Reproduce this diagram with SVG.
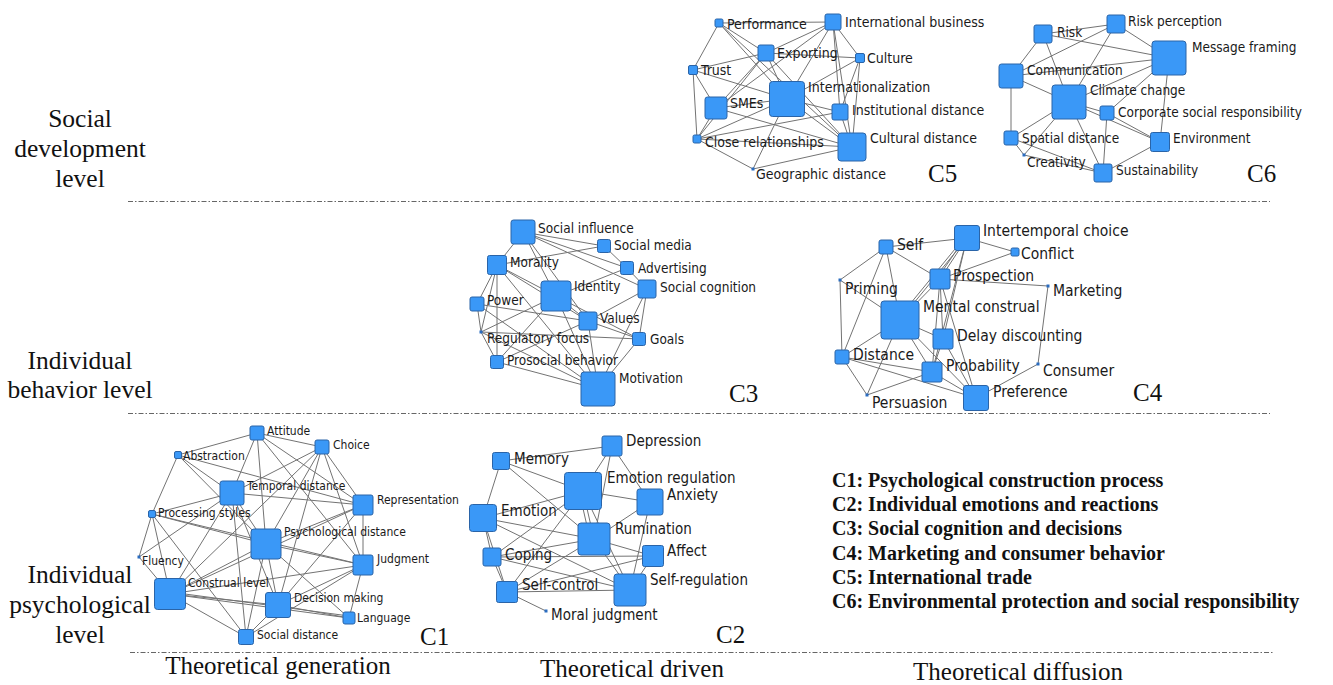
<svg xmlns="http://www.w3.org/2000/svg" width="1333" height="685" viewBox="0 0 1333 685">
<style>
.bg{fill:#ffffff}
.n{fill:#3a98f7;stroke:#2a64a8;stroke-width:1}
.d{fill:#2a6cc0}
.e line{stroke:#737373;stroke-width:1;fill:none}
.l{font-family:"DejaVu Sans Condensed","DejaVu Sans",sans-serif;fill:#1a1a1a}
.s12{font-size:12px}.s135{font-size:13.5px}.s14{font-size:14px}.s15{font-size:15px}.s155{font-size:15.5px}
.lv{font-family:"Liberation Serif","Times New Roman",serif;font-size:25.5px;fill:#111;text-anchor:middle}
.ax{font-family:"Liberation Serif","Times New Roman",serif;font-size:25px;fill:#111;text-anchor:middle}
.cl{font-family:"Liberation Serif","Times New Roman",serif;font-size:25px;fill:#111}
.lg{font-family:"Liberation Serif","Times New Roman",serif;font-size:20px;font-weight:bold;fill:#111}
.sep{stroke:#666;stroke-width:1;stroke-dasharray:5 2 1.5 2}
</style>
<rect class="bg" x="0" y="0" width="1333" height="685"/>

<g id="separators">
<line class="sep" x1="128" y1="201.5" x2="1270" y2="201.5"/>
<line class="sep" x1="128" y1="413.5" x2="1270" y2="413.5"/>
<line class="sep" x1="130" y1="652.5" x2="1274" y2="652.5"/>
</g>

<g id="connectors" class="e">
<!-- C5 -->
<line x1="719" y1="23" x2="693" y2="70"/><line x1="719" y1="23" x2="766" y2="53"/><line x1="719" y1="23" x2="787" y2="99"/><line x1="719" y1="23" x2="833" y2="22"/><line x1="719" y1="23" x2="852" y2="147"/>
<line x1="833" y1="22" x2="766" y2="53"/><line x1="833" y1="22" x2="716" y2="108"/><line x1="833" y1="22" x2="787" y2="99"/><line x1="833" y1="22" x2="840" y2="112"/><line x1="833" y1="22" x2="852" y2="147"/><line x1="833" y1="22" x2="860" y2="58"/>
<line x1="766" y1="53" x2="860" y2="58"/><line x1="766" y1="53" x2="716" y2="108"/><line x1="766" y1="53" x2="693" y2="70"/><line x1="766" y1="53" x2="787" y2="99"/><line x1="766" y1="53" x2="697" y2="139"/><line x1="766" y1="53" x2="852" y2="147"/>
<line x1="860" y1="58" x2="787" y2="99"/><line x1="860" y1="58" x2="840" y2="112"/><line x1="860" y1="58" x2="852" y2="147"/>
<line x1="693" y1="70" x2="697" y2="139"/><line x1="693" y1="70" x2="716" y2="108"/><line x1="693" y1="70" x2="787" y2="99"/>
<line x1="716" y1="108" x2="697" y2="139"/><line x1="716" y1="108" x2="787" y2="99"/><line x1="716" y1="108" x2="852" y2="147"/>
<line x1="787" y1="99" x2="840" y2="112"/><line x1="787" y1="99" x2="852" y2="147"/><line x1="787" y1="99" x2="697" y2="139"/><line x1="787" y1="99" x2="753" y2="169"/>
<line x1="840" y1="112" x2="852" y2="147"/><line x1="840" y1="112" x2="697" y2="139"/>
<line x1="697" y1="139" x2="753" y2="169"/><line x1="697" y1="139" x2="852" y2="147"/><line x1="753" y1="169" x2="852" y2="147"/>
<!-- C6 -->
<line x1="1043" y1="34" x2="1116" y2="24"/><line x1="1043" y1="34" x2="1011" y2="76"/><line x1="1043" y1="34" x2="1169" y2="58"/><line x1="1043" y1="34" x2="1069" y2="102"/>
<line x1="1116" y1="24" x2="1169" y2="58"/><line x1="1116" y1="24" x2="1011" y2="76"/><line x1="1116" y1="24" x2="1069" y2="102"/>
<line x1="1169" y1="58" x2="1011" y2="76"/><line x1="1169" y1="58" x2="1069" y2="102"/><line x1="1169" y1="58" x2="1160" y2="142"/><line x1="1169" y1="58" x2="1107" y2="113"/>
<line x1="1011" y1="76" x2="1069" y2="102"/><line x1="1011" y1="76" x2="1011" y2="138"/>
<line x1="1069" y1="102" x2="1011" y2="138"/><line x1="1069" y1="102" x2="1160" y2="142"/><line x1="1069" y1="102" x2="1107" y2="113"/><line x1="1069" y1="102" x2="1103" y2="173"/><line x1="1069" y1="102" x2="1024" y2="155"/>
<line x1="1107" y1="113" x2="1160" y2="142"/><line x1="1107" y1="113" x2="1103" y2="173"/>
<line x1="1011" y1="138" x2="1024" y2="155"/><line x1="1011" y1="138" x2="1103" y2="173"/><line x1="1160" y1="142" x2="1103" y2="173"/><line x1="1024" y1="155" x2="1103" y2="173"/>
<!-- C3 -->
<line x1="523" y1="232" x2="604" y2="246"/><line x1="523" y1="232" x2="627" y2="268"/><line x1="523" y1="232" x2="647" y2="289"/><line x1="523" y1="232" x2="497" y2="265"/><line x1="523" y1="232" x2="556" y2="296"/><line x1="523" y1="232" x2="588" y2="321"/>
<line x1="604" y1="246" x2="627" y2="268"/><line x1="604" y1="246" x2="497" y2="265"/>
<line x1="627" y1="268" x2="647" y2="289"/><line x1="627" y1="268" x2="556" y2="296"/>
<line x1="497" y1="265" x2="477" y2="304"/><line x1="497" y1="265" x2="556" y2="296"/><line x1="497" y1="265" x2="481" y2="332"/><line x1="497" y1="265" x2="497" y2="362"/><line x1="497" y1="265" x2="598" y2="389"/><line x1="497" y1="265" x2="588" y2="321"/>
<line x1="556" y1="296" x2="588" y2="321"/><line x1="556" y1="296" x2="598" y2="389"/><line x1="556" y1="296" x2="497" y2="362"/><line x1="556" y1="296" x2="481" y2="332"/><line x1="556" y1="296" x2="639" y2="339"/>
<line x1="647" y1="289" x2="588" y2="321"/><line x1="647" y1="289" x2="598" y2="389"/><line x1="647" y1="289" x2="639" y2="339"/>
<line x1="477" y1="304" x2="481" y2="332"/><line x1="477" y1="304" x2="598" y2="389"/><line x1="477" y1="304" x2="588" y2="321"/>
<line x1="588" y1="321" x2="639" y2="339"/><line x1="588" y1="321" x2="598" y2="389"/><line x1="588" y1="321" x2="497" y2="362"/>
<line x1="639" y1="339" x2="598" y2="389"/><line x1="481" y1="332" x2="598" y2="389"/><line x1="481" y1="332" x2="639" y2="339"/>
<line x1="497" y1="362" x2="598" y2="389"/><line x1="497" y1="362" x2="481" y2="332"/>
<!-- C4 -->
<line x1="886" y1="247" x2="967" y2="238"/><line x1="886" y1="247" x2="940" y2="279"/><line x1="886" y1="247" x2="840" y2="280"/><line x1="886" y1="247" x2="900" y2="320"/>
<line x1="967" y1="238" x2="1015" y2="252"/><line x1="967" y1="238" x2="940" y2="279"/><line x1="965" y1="238" x2="937" y2="279"/><line x1="967" y1="238" x2="900" y2="320"/><line x1="964" y1="238" x2="897" y2="320"/><line x1="967" y1="238" x2="943" y2="339"/><line x1="967" y1="238" x2="932" y2="372"/>
<line x1="1015" y1="252" x2="940" y2="279"/>
<line x1="940" y1="279" x2="900" y2="320"/><line x1="940" y1="279" x2="943" y2="339"/><line x1="940" y1="279" x2="1048" y2="286"/><line x1="940" y1="279" x2="932" y2="372"/><line x1="940" y1="279" x2="976" y2="398"/>
<line x1="840" y1="280" x2="842" y2="357"/><line x1="840" y1="280" x2="900" y2="320"/><line x1="886" y1="247" x2="842" y2="357"/>
<line x1="1048" y1="286" x2="1038" y2="364"/>
<line x1="900" y1="320" x2="842" y2="357"/><line x1="900" y1="320" x2="943" y2="339"/><line x1="900" y1="320" x2="932" y2="372"/><line x1="900" y1="320" x2="976" y2="398"/><line x1="900" y1="320" x2="867" y2="395"/>
<line x1="943" y1="339" x2="932" y2="372"/><line x1="943" y1="339" x2="976" y2="398"/>
<line x1="842" y1="357" x2="932" y2="372"/><line x1="842" y1="357" x2="867" y2="395"/><line x1="842" y1="357" x2="976" y2="398"/>
<line x1="932" y1="372" x2="976" y2="398"/><line x1="1038" y1="364" x2="976" y2="398"/><line x1="867" y1="395" x2="932" y2="372"/>
<!-- C1 -->
<line x1="257" y1="433" x2="178" y2="455"/><line x1="257" y1="433" x2="322" y2="447"/><line x1="257" y1="433" x2="232" y2="493"/><line x1="257" y1="433" x2="266" y2="544"/><line x1="257" y1="433" x2="363" y2="565"/><line x1="257" y1="433" x2="363" y2="505"/>
<line x1="322" y1="447" x2="232" y2="493"/><line x1="322" y1="447" x2="266" y2="544"/><line x1="322" y1="447" x2="363" y2="505"/><line x1="322" y1="447" x2="363" y2="565"/><line x1="322" y1="447" x2="170" y2="594"/><line x1="322" y1="447" x2="278" y2="605"/>
<line x1="178" y1="455" x2="232" y2="493"/><line x1="178" y1="455" x2="266" y2="544"/><line x1="178" y1="455" x2="152" y2="514"/><line x1="178" y1="455" x2="363" y2="505"/>
<line x1="232" y1="493" x2="363" y2="505"/><line x1="232" y1="493" x2="266" y2="544"/><line x1="232" y1="493" x2="170" y2="594"/><line x1="232" y1="493" x2="246" y2="637"/><line x1="232" y1="493" x2="152" y2="514"/><line x1="232" y1="493" x2="278" y2="605"/><line x1="232" y1="493" x2="139" y2="557"/>
<line x1="363" y1="505" x2="266" y2="544"/><line x1="363" y1="505" x2="363" y2="565"/><line x1="363" y1="505" x2="170" y2="594"/><line x1="363" y1="505" x2="278" y2="605"/>
<line x1="152" y1="514" x2="139" y2="557"/><line x1="152" y1="514" x2="170" y2="594"/><line x1="152" y1="514" x2="266" y2="544"/><line x1="152" y1="514" x2="363" y2="565"/><line x1="152" y1="514" x2="246" y2="637"/>
<line x1="266" y1="544" x2="170" y2="594"/><line x1="266" y1="544" x2="363" y2="565"/><line x1="266" y1="544" x2="278" y2="605"/><line x1="266" y1="544" x2="246" y2="637"/><line x1="266" y1="544" x2="349" y2="618"/>
<line x1="139" y1="557" x2="170" y2="594"/>
<line x1="363" y1="565" x2="170" y2="594"/><line x1="363" y1="565" x2="278" y2="605"/><line x1="363" y1="565" x2="349" y2="618"/><line x1="363" y1="565" x2="246" y2="637"/>
<line x1="170" y1="594" x2="278" y2="605"/><line x1="170" y1="594" x2="349" y2="618"/><line x1="170" y1="592" x2="349" y2="616"/><line x1="170" y1="594" x2="246" y2="637"/>
<line x1="278" y1="605" x2="349" y2="618"/><line x1="278" y1="605" x2="246" y2="637"/>
<!-- C2 -->
<line x1="612" y1="446" x2="501" y2="461"/><line x1="612" y1="446" x2="583" y2="491"/><line x1="612" y1="446" x2="650" y2="502"/><line x1="612" y1="446" x2="594" y2="539"/>
<line x1="501" y1="461" x2="483" y2="518"/><line x1="501" y1="461" x2="583" y2="491"/><line x1="501" y1="461" x2="594" y2="539"/>
<line x1="583" y1="491" x2="650" y2="502"/><line x1="583" y1="491" x2="483" y2="518"/><line x1="583" y1="491" x2="594" y2="539"/><line x1="579" y1="491" x2="590" y2="539"/><line x1="583" y1="491" x2="492" y2="557"/><line x1="583" y1="491" x2="630" y2="590"/><line x1="583" y1="491" x2="507" y2="592"/>
<line x1="650" y1="502" x2="594" y2="539"/><line x1="650" y1="502" x2="630" y2="590"/>
<line x1="483" y1="518" x2="492" y2="557"/><line x1="483" y1="518" x2="507" y2="592"/><line x1="483" y1="518" x2="594" y2="539"/><line x1="483" y1="518" x2="630" y2="590"/>
<line x1="594" y1="539" x2="492" y2="557"/><line x1="594" y1="539" x2="653" y2="556"/><line x1="594" y1="539" x2="630" y2="590"/><line x1="594" y1="539" x2="507" y2="592"/>
<line x1="653" y1="556" x2="507" y2="592"/><line x1="653" y1="556" x2="492" y2="557"/><line x1="653" y1="556" x2="630" y2="590"/>
<line x1="492" y1="557" x2="507" y2="592"/><line x1="492" y1="557" x2="630" y2="590"/>
<line x1="507" y1="592" x2="546" y2="611"/><line x1="507" y1="592" x2="630" y2="590"/>
</g>

<!-- C5 nodes -->
<g id="c5-performance"><rect class="n" x="715" y="19" width="8" height="8" rx="1.5"/><text class="l s14" x="727" y="29">Performance</text></g>
<g id="c5-international-business"><rect class="n" x="825" y="14" width="16" height="16" rx="2"/><text class="l s14" x="845" y="27">International business</text></g>
<g id="c5-exporting"><rect class="n" x="758" y="45" width="16" height="16" rx="2"/><text class="l s14" x="777" y="58">Exporting</text></g>
<g id="c5-culture"><rect class="n" x="855.5" y="53.5" width="9" height="9" rx="1.5"/><text class="l s14" x="867" y="63">Culture</text></g>
<g id="c5-trust"><rect class="n" x="688.5" y="65.5" width="9" height="9" rx="1.5"/><text class="l s14" x="701" y="75">Trust</text></g>
<g id="c5-internationalization"><rect class="n" x="769.5" y="81.5" width="35" height="35" rx="3"/><text class="l s14" x="808" y="92">Internationalization</text></g>
<g id="c5-smes"><rect class="n" x="705" y="97" width="22" height="22" rx="2.5"/><text class="l s14" x="730" y="108">SMEs</text></g>
<g id="c5-institutional-distance"><rect class="n" x="832" y="104" width="16" height="16" rx="2"/><text class="l s14" x="852" y="115">Institutional distance</text></g>
<g id="c5-close-relationships"><rect class="n" x="693" y="135" width="8" height="8" rx="1.5"/><text class="l s14" x="705" y="147">Close relationships</text></g>
<g id="c5-cultural-distance"><rect class="n" x="838" y="133" width="28" height="28" rx="3"/><text class="l s14" x="870" y="143">Cultural distance</text></g>
<g id="c5-geographic-distance"><rect class="d" x="751.5" y="167.5" width="3" height="3"/><text class="l s14" x="756" y="179">Geographic distance</text></g>
<text class="cl" x="928" y="182">C5</text>

<!-- C6 nodes -->
<g id="c6-risk"><rect class="n" x="1034" y="25" width="18" height="18" rx="2"/><text class="l s135" x="1057" y="37">Risk</text></g>
<g id="c6-risk-perception"><rect class="n" x="1107" y="15" width="18" height="18" rx="2"/><text class="l s135" x="1128" y="26">Risk perception</text></g>
<g id="c6-message-framing"><rect class="n" x="1152" y="41" width="34" height="34" rx="3"/><text class="l s135" x="1192" y="52">Message framing</text></g>
<g id="c6-communication"><rect class="n" x="999" y="64" width="24" height="24" rx="2.5"/><text class="l s135" x="1027" y="75">Communication</text></g>
<g id="c6-climate-change"><rect class="n" x="1052" y="85" width="34" height="34" rx="3"/><text class="l s135" x="1090" y="95">Climate change</text></g>
<g id="c6-csr"><rect class="n" x="1100" y="106" width="14" height="14" rx="2"/><text class="l s135" x="1118" y="117">Corporate social responsibility</text></g>
<g id="c6-spatial-distance"><rect class="n" x="1004" y="131" width="14" height="14" rx="2"/><text class="l s135" x="1022" y="143">Spatial distance</text></g>
<g id="c6-environment"><rect class="n" x="1150.5" y="132.5" width="19" height="19" rx="2"/><text class="l s135" x="1173" y="143">Environment</text></g>
<g id="c6-creativity"><rect class="d" x="1022.5" y="153.5" width="3" height="3"/><text class="l s135" x="1027" y="167">Creativity</text></g>
<g id="c6-sustainability"><rect class="n" x="1094" y="164" width="18" height="18" rx="2"/><text class="l s135" x="1116" y="175">Sustainability</text></g>
<text class="cl" x="1247" y="182">C6</text>

<!-- C3 nodes -->
<g id="c3-social-influence"><rect class="n" x="511" y="220" width="24" height="24" rx="2.5"/><text class="l s135" x="538" y="233">Social influence</text></g>
<g id="c3-social-media"><rect class="n" x="597.5" y="239.5" width="13" height="13" rx="2"/><text class="l s135" x="614" y="250">Social media</text></g>
<g id="c3-morality"><rect class="n" x="487.5" y="255.5" width="19" height="19" rx="2"/><text class="l s135" x="510" y="267">Morality</text></g>
<g id="c3-advertising"><rect class="n" x="620.5" y="261.5" width="13" height="13" rx="2"/><text class="l s135" x="638" y="273">Advertising</text></g>
<g id="c3-identity"><rect class="n" x="541" y="281" width="30" height="30" rx="3"/><text class="l s135" x="574" y="291">Identity</text></g>
<g id="c3-social-cognition"><rect class="n" x="638" y="280" width="18" height="18" rx="2"/><text class="l s135" x="660" y="292">Social cognition</text></g>
<g id="c3-power"><rect class="n" x="470" y="297" width="14" height="14" rx="2"/><text class="l s135" x="487" y="305">Power</text></g>
<g id="c3-values"><rect class="n" x="579" y="312" width="18" height="18" rx="2"/><text class="l s135" x="600" y="323">Values</text></g>
<g id="c3-goals"><rect class="n" x="632.5" y="332.5" width="13" height="13" rx="2"/><text class="l s135" x="650" y="344">Goals</text></g>
<g id="c3-regulatory-focus"><rect class="d" x="479.5" y="330.5" width="3" height="3"/><text class="l s135" x="487" y="343">Regulatory focus</text></g>
<g id="c3-prosocial-behavior"><rect class="n" x="490.5" y="355.5" width="13" height="13" rx="2"/><text class="l s135" x="507" y="365">Prosocial behavior</text></g>
<g id="c3-motivation"><rect class="n" x="581" y="372" width="34" height="34" rx="3"/><text class="l s135" x="619" y="383">Motivation</text></g>
<text class="cl" x="729" y="402">C3</text>

<!-- C4 nodes -->
<g id="c4-self"><rect class="n" x="879" y="240" width="14" height="14" rx="2"/><text class="l s155" x="897" y="250">Self</text></g>
<g id="c4-intertemporal-choice"><rect class="n" x="954.5" y="225.5" width="25" height="25" rx="2.5"/><text class="l s155" x="983" y="236">Intertemporal choice</text></g>
<g id="c4-conflict"><rect class="n" x="1011" y="248" width="8" height="8" rx="1.5"/><text class="l s155" x="1021" y="259">Conflict</text></g>
<g id="c4-prospection"><rect class="n" x="930" y="269" width="20" height="20" rx="2"/><text class="l s155" x="953" y="281">Prospection</text></g>
<g id="c4-priming"><rect class="d" x="838.5" y="278.5" width="3" height="3"/><text class="l s155" x="845" y="294">Priming</text></g>
<g id="c4-marketing"><rect class="d" x="1046.5" y="284.5" width="3" height="3"/><text class="l s155" x="1053" y="296">Marketing</text></g>
<g id="c4-mental-construal"><rect class="n" x="881" y="301" width="38" height="38" rx="3"/><text class="l s155" x="923" y="312">Mental construal</text></g>
<g id="c4-delay-discounting"><rect class="n" x="933" y="329" width="20" height="20" rx="2"/><text class="l s155" x="957" y="341">Delay discounting</text></g>
<g id="c4-distance"><rect class="n" x="835" y="350" width="14" height="14" rx="2"/><text class="l s155" x="853" y="360">Distance</text></g>
<g id="c4-probability"><rect class="n" x="922" y="362" width="20" height="20" rx="2"/><text class="l s155" x="946" y="371">Probability</text></g>
<g id="c4-consumer"><rect class="d" x="1036.5" y="362.5" width="3" height="3"/><text class="l s155" x="1043" y="376">Consumer</text></g>
<g id="c4-persuasion"><rect class="d" x="865.5" y="393.5" width="3" height="3"/><text class="l s155" x="872" y="408">Persuasion</text></g>
<g id="c4-preference"><rect class="n" x="963.5" y="385.5" width="25" height="25" rx="2.5"/><text class="l s155" x="993" y="397">Preference</text></g>
<text class="cl" x="1133" y="401">C4</text>

<!-- C1 nodes -->
<g id="c1-attitude"><rect class="n" x="250" y="426" width="14" height="14" rx="2"/><text class="l s12" x="267" y="435">Attitude</text></g>
<g id="c1-choice"><rect class="n" x="315" y="440" width="14" height="14" rx="2"/><text class="l s12" x="333" y="449">Choice</text></g>
<g id="c1-abstraction"><rect class="n" x="174.5" y="451.5" width="7" height="7" rx="1.5"/><text class="l s12" x="183" y="460">Abstraction</text></g>
<g id="c1-temporal-distance"><rect class="n" x="220" y="481" width="24" height="24" rx="2.5"/><text class="l s12" x="247" y="490">Temporal distance</text></g>
<g id="c1-representation"><rect class="n" x="353" y="495" width="20" height="20" rx="2"/><text class="l s12" x="377" y="504">Representation</text></g>
<g id="c1-processing-styles"><rect class="n" x="148.5" y="510.5" width="7" height="7" rx="1.5"/><text class="l s12" x="158" y="517">Processing styles</text></g>
<g id="c1-psychological-distance"><rect class="n" x="251" y="529" width="30" height="30" rx="3"/><text class="l s12" x="284" y="536">Psychological distance</text></g>
<g id="c1-fluency"><rect class="d" x="137.5" y="555.5" width="3" height="3"/><text class="l s12" x="142" y="565">Fluency</text></g>
<g id="c1-judgment"><rect class="n" x="353" y="555" width="20" height="20" rx="2"/><text class="l s12" x="377" y="563">Judgment</text></g>
<g id="c1-construal-level"><rect class="n" x="154.5" y="578.5" width="31" height="31" rx="3"/><text class="l s12" x="188" y="587">Construal level</text></g>
<g id="c1-decision-making"><rect class="n" x="265.5" y="592.5" width="25" height="25" rx="2.5"/><text class="l s12" x="294" y="602">Decision making</text></g>
<g id="c1-language"><rect class="n" x="343" y="612" width="12" height="12" rx="2"/><text class="l s12" x="357" y="622">Language</text></g>
<g id="c1-social-distance"><rect class="n" x="238.5" y="629.5" width="15" height="15" rx="2"/><text class="l s12" x="257" y="639">Social distance</text></g>
<text class="cl" x="420" y="645">C1</text>

<!-- C2 nodes -->
<g id="c2-depression"><rect class="n" x="602" y="436" width="20" height="20" rx="2"/><text class="l s15" x="626" y="446">Depression</text></g>
<g id="c2-memory"><rect class="n" x="492.5" y="452.5" width="17" height="17" rx="2"/><text class="l s15" x="514" y="464">Memory</text></g>
<g id="c2-emotion-regulation"><rect class="n" x="564.5" y="472.5" width="37" height="37" rx="3"/><text class="l s15" x="607" y="483">Emotion regulation</text></g>
<g id="c2-anxiety"><rect class="n" x="637" y="489" width="26" height="26" rx="2.5"/><text class="l s15" x="667" y="500">Anxiety</text></g>
<g id="c2-emotion"><rect class="n" x="469.5" y="504.5" width="27" height="27" rx="3"/><text class="l s15" x="501" y="516">Emotion</text></g>
<g id="c2-rumination"><rect class="n" x="578" y="523" width="32" height="32" rx="3"/><text class="l s15" x="615" y="534">Rumination</text></g>
<g id="c2-coping"><rect class="n" x="483" y="548" width="18" height="18" rx="2"/><text class="l s15" x="505" y="560">Coping</text></g>
<g id="c2-affect"><rect class="n" x="642.5" y="545.5" width="21" height="21" rx="2"/><text class="l s15" x="667" y="556">Affect</text></g>
<g id="c2-self-control"><rect class="n" x="496.5" y="581.5" width="21" height="21" rx="2"/><text class="l s15" x="522" y="590">Self-control</text></g>
<g id="c2-self-regulation"><rect class="n" x="614" y="574" width="32" height="32" rx="3"/><text class="l s15" x="650" y="585">Self-regulation</text></g>
<g id="c2-moral-judgment"><rect class="d" x="544.5" y="609.5" width="3" height="3"/><text class="l s15" x="551" y="620">Moral judgment</text></g>
<text class="cl" x="716" y="643">C2</text>

<g id="level-labels">
<text class="lv" x="80" y="127">Social</text>
<text class="lv" x="80" y="157">development</text>
<text class="lv" x="80" y="187">level</text>
<text class="lv" x="80" y="369">Individual</text>
<text class="lv" x="80" y="398">behavior level</text>
<text class="lv" x="80" y="583">Individual</text>
<text class="lv" x="80" y="613">psychological</text>
<text class="lv" x="80" y="643">level</text>
</g>

<g id="axis-labels">
<text class="ax" x="278" y="674">Theoretical generation</text>
<text class="ax" x="632" y="677">Theoretical driven</text>
<text class="ax" x="1018" y="680">Theoretical diffusion</text>
</g>

<g id="legend">
<text class="lg" x="832" y="487">C1: Psychological construction process</text>
<text class="lg" x="832" y="511">C2: Individual emotions and reactions</text>
<text class="lg" x="832" y="535">C3: Social cognition and decisions</text>
<text class="lg" x="832" y="560">C4: Marketing and consumer behavior</text>
<text class="lg" x="832" y="584">C5: International trade</text>
<text class="lg" x="832" y="608">C6: Environmental protection and social responsibility</text>
</g>
</svg>
